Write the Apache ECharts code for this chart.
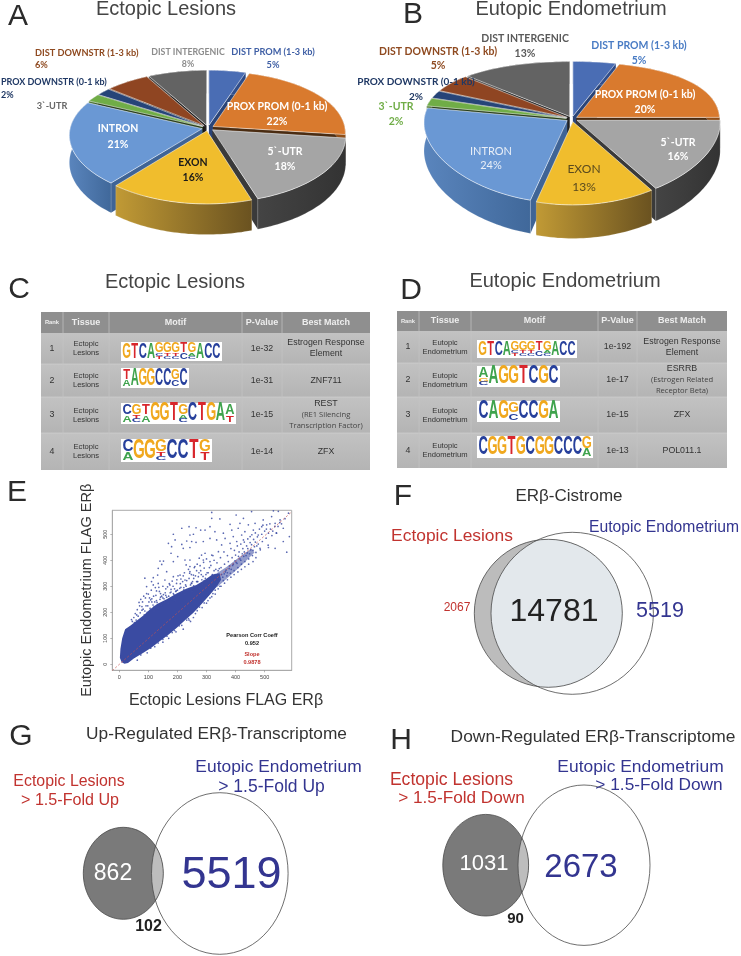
<!DOCTYPE html>
<html><head><meta charset="utf-8">
<style>html,body{margin:0;padding:0;background:#fff}#c{width:741px;height:956px}</style>
<script src="https://cdn.jsdelivr.net/npm/echarts@6/dist/echarts.min.js"></script>
</head><body><div id="c"></div>
<script>
// ---------- data ----------
const genomicFeatures = ['DIST PROM (1-3 kb)','PROX PROM (0-1 kb)','5`-UTR','EXON','INTRON','3`-UTR','PROX DOWNSTR (0-1 kb)','DIST DOWNSTR (1-3 kb)','DIST INTERGENIC'];
const ectopicShare = [5,22,18,16,21,2,2,6,8];
const eutopicShare = [5,20,16,13,24,2,2,5,13];

const motifHeader = ['Rank','Tissue','Motif','P-Value','Best Match'];
const ectopicPValues = ['1e-32','1e-31','1e-15','1e-14'];
const ectopicMatches = [['Estrogen Response','Element'],['ZNF711'],['REST','(RE1 Silencing','Transcription Factor)'],['ZFX']];
const ectopicMotifs = [
 ['G','T','C','A','GCT','GTC','GTC','TC','GAC','A','C','C'],
 ['TA','A','G','G','C','C','GC','C'],
 ['CA','GTC','TA','G','G','T','GAC','C','T','G','A','AT'],
 ['CA','G','G','GTC','C','C','T','GT']];
const eutopicPValues = ['1e-192','1e-17','1e-15','1e-13'];
const eutopicMatches = [['Estrogen Response','Element'],['ESRRB','(Estrogen Related','Receptor Beta)'],['ZFX'],['POL011.1']];
const eutopicMotifs = [
 ['G','T','C','A','GCT','GTC','GTC','TC','GAC','A','C','C'],
 ['AGC','A','G','G','T','C','G','C'],
 ['C','A','G','GC','C','C','G','A'],
 ['C','G','G','T','G','C','G','G','C','C','C','GA']];

const scatterTicks = [0,100,200,300,400,500];
const identityLine = [[-24,-24],[590,583]];
const denseRegion = [[18,2],[30,5],[50,22],[83,44],[110,64],[140,90],[170,115],[197,140],[225,168],[255,198],[280,228],[310,265],[335,298],[350,325],[345,350],[320,345],[295,325],[265,305],[230,290],[197,272],[163,250],[130,232],[106,212],[85,190],[65,172],[40,150],[20,135],[10,100],[4,60],[2,25],[8,8]];
const bandRegion = [[335,295],[375,335],[420,380],[465,430],[455,445],[410,410],[370,375],[335,350]];
const scatterPoints = [
[215,523],[240,529],[264,525],[280,516],[186,500],[243,497],[255,500],[192,478],[232,474],[249,472],[264,469],[169,465],[180,452],[215,461],[220,446],[243,449],[178,427],[201,414],[140,397],[152,397],[226,401],[243,401],[275,408],[283,420],[134,369],[146,384],[186,395],[230,382],[243,376],[260,376],[278,379],[117,333],[88,331],[132,343],[163,356],[186,337],[209,343],[243,356],[255,343],[272,337],[111,318],[94,299],[117,305],[134,311],[157,324],[174,305],[197,311],[226,324],[249,311],[266,318],
[318,584],[318,561],[346,559],[402,574],[427,561],[455,587],[530,590],[547,588],[524,568],[553,555],[582,581],[495,555],[467,542],[444,536],[415,542],[381,538],[312,529],[295,516],[329,510],[358,504],[387,516],[409,523],[432,510],[461,516],[490,529],[507,536],[536,542],[564,523],[585,491],[576,431],[564,472],[541,504],[513,504],[478,497],[450,491],[421,497],[392,491],[364,484],[335,478],[312,484],[289,472],[352,459],[381,465],[404,472],[427,478],[513,449],[536,446],[484,446],[341,433],[318,420],[295,427],[289,401],[312,395],
[330,345],[335,318],[340,360],[345,330],[350,372],[352,345],[358,322],[362,385],[365,355],[370,340],[375,395],[378,368],[382,350],[388,410],[390,380],[395,360],[400,420],[402,392],[408,372],[412,432],[415,405],[420,385],[425,445],[428,415],[432,395],[438,455],[440,428],[445,405],[450,468],[452,440],[458,418],[462,480],[465,452],[470,430],[475,490],[478,462],[485,440],[490,500],[492,472],[500,512],[505,485],[512,458],[520,520],[525,495],[535,530],[540,505],[552,545],
[356,335],[361,348],[367,362],[372,352],[379,378],[385,365],[392,385],[398,398],[405,388],[410,415],[418,400],[423,425],[430,432],[436,418],[442,445],[448,425],[455,460],[460,438],[468,470],[473,455],
[45,165],[50,180],[55,195],[58,170],[62,210],[65,185],[70,225],[72,198],[76,175],[80,240],[82,212],[86,190],[90,255],[92,225],[96,200],[100,270],[102,240],[106,215],[110,285],[112,252],[116,228],[120,205],[124,295],[126,265],[130,238],[134,215],[138,280],[140,250],[145,226],[150,300],[152,268],[156,240],[160,290],[163,258],[168,235],[172,310],[175,275],[180,250],[185,300],[188,268],[192,245],[198,325],[200,285],[205,260],[210,310],[214,275],[220,340],[222,295],[226,268],[232,322],[236,285],[242,350],[245,305],[250,280],[256,330],[260,296],[266,360],[270,318],[276,290],[282,345],[286,308],[292,370],[296,330],[302,352],[308,325],[315,380],[320,345],[326,400],[332,365],
[74,250],[84,262],[104,255],[122,240],[128,282],[146,262],[158,275],[170,262],[178,288],[194,280],[208,292],[218,318],[228,305],[240,330],[252,318],[262,340],[274,352],[284,325],[298,345],
[150,85],[170,100],[195,125],[215,150],[240,170],[262,195],[285,218],[305,245],[330,270],[350,300],[372,325],[395,345],[420,365],[445,385],[470,410],[220,135],[245,165],[300,235],[330,285],[255,180],[460,395],[318,260],[340,290],[362,312],[384,335],[408,355],[432,375],
[68,238],[78,222],[94,272],[108,248],[118,262],[136,296],[142,272],[154,252],[166,298],[182,320],[190,290],[202,340],[212,328],[224,352],[238,365],[248,345],[258,372],[268,385],[280,360],[290,392],[300,405],[310,372],[322,418],[336,390],[348,410],[360,432],[372,418],[384,445],[396,438],[406,455],[418,462],[430,470],[442,482],[456,498],[468,505],[482,520],[494,535],[506,520],[518,540],[528,512],[546,530],[558,540],[570,560],
[42,172],[60,190],[78,208],[98,225],[112,240],[128,245],[142,258],[160,265],[178,278],[196,282],[212,296],[230,300],[248,312],[268,318],[288,338],[306,352],[326,360],[344,368],[52,160],[88,205],[120,222],[150,255],[186,272],[222,286],[256,302],[292,322],
[62,16],[96,44],[122,68],[150,96],[182,122],[206,148],[238,176],[268,206],[292,236],[322,272],[346,300],[74,36],[108,62],[134,82],[164,108],[190,130],[232,170],[276,220],[312,255]];

const cistromeCounts = {ectopicOnly:'2067', shared:'14781', eutopicOnly:'5519'};
const upCounts = {ectopicOnly:'862', shared:'102', eutopicOnly:'5519'};
const downCounts = {ectopicOnly:'1031', shared:'90', eutopicOnly:'2673'};

// ---------- layout & style ----------
const SANS = '"Liberation Sans",Arial,sans-serif';
const LABEL = 'Lato,"Open Sans",sans-serif';
const RED = '#c1332f', BLUE = '#333590', DARK = '#333';
const sliceTop = ['#4a6db4','#d97a2e','#a5a5a5','#f0bd2d','#6a98d4','#70ad47','#264478','#8f4522','#636363'];
const sliceWall = [['#3a5a9a','#2d4a86'],['#b5651f','#8f4d17'],['#444','#333'],['#c19a35','#6a5220'],['#5a85bd','#40689a'],['#507a32','#3c5e26'],['#1b3360','#14264a'],['#6e3414','#55280f'],['#4a4a4a','#383838']];
const sliceCut = ['#2a4478','#4a2c12','#3a3a3a','#806424','#3f6496','#263d18','#101d38','#1a1008','#222'];
const pieLayout = [
 {cx:208,cy:128,rx:132,ry:64,k:0.13,kx:0.1,d:27,e:0.045,values:ectopicShare},
 {cx:572,cy:119,rx:143,ry:69,k:0.19,kx:0.03,d:28,e:0.04,values:eutopicShare}];

const gfx = [];
function T(text,x,y,o={}){
  gfx.push({type:'text',x,y,z:100,silent:true,rotation:o.rot||0,scaleX:o.sx||1,scaleY:o.sy||1,style:{text,x:0,y:0,
    fill:o.c||DARK,font:`${o.w||'normal'} ${o.s||12}px ${o.f||SANS}`,
    align:o.a||'center',textAlign:o.a||'center',verticalAlign:'middle',textVerticalAlign:'middle'}});
}
function R(x,y,w,h,fill,extra){ gfx.push(Object.assign({type:'rect',z:100,silent:true,shape:{x,y,width:w,height:h},style:{fill}},extra||{})); }
function L(x1,y1,x2,y2,c){ gfx.push({type:'line',z:100,silent:true,shape:{x1,y1,x2,y2},style:{stroke:c,lineWidth:0.7}}); }

// panel letters
[['A',18,17],['B',413,15],['C',19,290],['D',411,291],['E',17,493],['F',403,497],['G',21,737],['H',401,741]].forEach(p=>T(p[0],p[1],p[2],{s:30,c:'#2b2b2b'}));
// titles
[['Ectopic Lesions',166,9,20],['Eutopic Endometrium',571,9,20],['Ectopic Lesions',175,282,20],['Eutopic Endometrium',565,281,20]].forEach(p=>T(p[0],p[1],p[2],{s:p[3],c:'#444'}));

// pie labels
const pct = v=>v+'%';
function pieLabels(vals, items){
  items.forEach(it=>{
    const i=it[0], o=it[1];
    T(genomicFeatures[i],o.x,o.y,{s:o.s||9.2,c:o.c,w:o.w||'bold',f:LABEL,a:o.a||'center'});
    if(o.py) T(pct(vals[i]),o.px!==undefined?o.px:o.x,o.py,{s:o.ps||o.s||9.2,c:o.c,w:o.w||'bold',f:LABEL,a:o.a||'center'});
  });
}
pieLabels(ectopicShare,[
 [0,{x:273,y:52,py:65,c:'#3f5fa5'}],
 [1,{x:277,y:107,py:122,c:'#fff',s:10.5}],
 [2,{x:285,y:152,py:167,c:'#fff',s:10.5}],
 [3,{x:193,y:163,py:178,c:'#1a1a1a',s:10.5}],
 [4,{x:118,y:129,py:145,c:'#fff',s:10.5}],
 [5,{x:52,y:106,c:'#666'}],
 [6,{x:1,y:82,py:95,c:'#1f3864',a:'left',s:9}],
 [7,{x:35,y:53,py:65,c:'#8f4a20',a:'left'}],
 [8,{x:188,y:52,py:64,c:'#8c8c8c',s:8.8}]]);
pieLabels(eutopicShare,[
 [0,{x:639,y:46,py:61,c:'#4a7cc4',s:10.5}],
 [1,{x:645,y:95,py:110,c:'#fff',s:10.5}],
 [2,{x:678,y:143,py:157,c:'#fff',s:10.5}],
 [3,{x:584,y:169,py:187,c:'#5a4a1e',s:12,w:'normal'}],
 [4,{x:491,y:151,py:165,c:'#e8eef7',s:11,w:'normal'}],
 [5,{x:396,y:107,py:122,c:'#70ad47',s:10.5}],
 [6,{x:416,y:82,py:97,c:'#1f3864',s:10}],
 [7,{x:438,y:52,py:66,c:'#8f4a20',s:10.5}],
 [8,{x:525,y:39,py:54,c:'#5a5a5a',s:10.5}]]);

// tables
const letterColor = {A:'#3fa34d',C:'#27409c',G:'#f0a81e',T:'#d8262c'};
function table(tb, tissue, pvals, matches, motifs){
  const [x0,x1]=tb.x,[y0,y1]=tb.y;
  R(x0,y0,x1-x0,y1-y0,'#b8b8b8');
  R(x0,y0,x1-x0,tb.head-y0,'#8f8f8f');
  const rows=[tb.head].concat(tb.rows,[y1]);
  for(let r=0;r<4;r++){
    R(x0,rows[r],x1-x0,rows[r+1]-rows[r],new echarts.graphic.LinearGradient(0,0,0,1,[{offset:0,color:'#c2c2c2'},{offset:1,color:'#b4b4b4'}]));
  }
  rows.slice(1,-1).forEach(y=>L(x0,y,x1,y,'#d0d0d0'));
  tb.cols.forEach(x=>L(x,y0,x,y1,'#c4c4c4'));
  const cx=[x0].concat(tb.cols,[x1]);
  const mid=i=>(cx[i]+cx[i+1])/2;
  motifHeader.forEach((h,i)=>T(h,mid(i),(y0+tb.head)/2,{s:i==0?5.8:9,w:'bold',c:'#eee'}));
  for(let r=0;r<4;r++){
    const cy=(rows[r]+rows[r+1])/2;
    T(String(r+1),mid(0),cy,{s:8.8,c:'#333'});
    const t=tissue;
    T(t[0],mid(1),cy-4.5,{s:7.6,c:'#333'}); T(t[1],mid(1),cy+4.5,{s:7.6,c:'#333'});
    T(pvals[r],mid(3),cy,{s:8.8,c:'#333'});
    const m=matches[r];
    if(m.length===1) T(m[0],mid(4),cy,{s:8.8,c:'#333'});
    else if(m.length===2){ T(m[0],mid(4),cy-5.5,{s:8.8,c:'#333'}); T(m[1],mid(4),cy+5.5,{s:8.8,c:'#333'}); }
    else { T(m[0],mid(4),cy-11,{s:8.8,c:'#333'}); T(m[1],mid(4),cy,{s:7.6,c:'#444',f:'"Open Sans",sans-serif'}); T(m[2],mid(4),cy+11,{s:7.6,c:'#444',f:'"Open Sans",sans-serif'}); }
    // motif logo
    const b=tb.logo[r];
    R(b[0],b[1],b[2],b[3],'#fff');
    const cols=motifs[r], cw=(b[2]-3)/cols.length, top=b[1]+1.5, H=b[3]-3;
    cols.forEach((stack,ci)=>{
      const letters=stack.split('');
      const n=letters.length;
      let y=top;
      letters.forEach((ch,li)=>{
        const h = n===1 ? H : (li===0 ? H*0.62 : H*0.38/(n-1));
        const fs=14, capH=fs*0.72, capW=fs*0.74;
        T(ch,b[0]+1.5+cw*(ci+0.5),y+h/2,{s:fs,w:'bold',c:letterColor[ch],sx:cw/capW*1.02,sy:h/capH});
        y+=h;
      });
    });
  }
}
table({x:[41,370],y:[312,470],head:333,rows:[364,397,433],cols:[63,109,242,282],
  logo:[[121,342,101,19],[121,368,68,20],[121,403,115,21],[121,439,91,23]]},['Ectopic','Lesions'],ectopicPValues,ectopicMatches,ectopicMotifs);
table({x:[397,727],y:[311,468],head:331,rows:[363,397,433],cols:[419,471,598,637],
  logo:[[477,340,100,18],[477,366,83,21],[477,401,83,21],[477,436,116,22]]},['Eutopic','Endometrium'],eutopicPValues,eutopicMatches,eutopicMotifs);

// scatter annotations
T('Pearson Corr Coeff',252,635,{s:5.6,w:'bold',c:'#222'});
T('0.952',252,643,{s:5.6,w:'bold',c:'#222'});
T('Slope',252,654,{s:5.6,w:'bold',c:RED});
T('0.9878',252,662,{s:5.6,w:'bold',c:RED});

// venn labels
T('ERβ-Cistrome',569,496,{s:17,c:'#333'});
T('Ectopic Lesions',452,536,{s:17.4,c:RED});
T('Eutopic Endometrium',664,528,{s:15.7,c:BLUE});
T(cistromeCounts.ectopicOnly,457,608,{s:12,c:RED});
T(cistromeCounts.shared,554,612,{s:32,c:'#222'});
T(cistromeCounts.eutopicOnly,660,611,{s:21.5,c:BLUE});

T('Up-Regulated ERβ-Transcriptome',216.5,734,{s:17.3,c:'#333'});
T('Ectopic Lesions',69,782,{s:15.9,c:RED});
T('> 1.5-Fold Up',70,801,{s:16.1,c:RED});
T('Eutopic Endometrium',278.5,767,{s:17.4,c:BLUE});
T('> 1.5-Fold Up',271.5,787,{s:17.5,c:BLUE});
T(upCounts.ectopicOnly,113,874,{s:23,c:'#fff'});
T(upCounts.eutopicOnly,231.5,876,{s:45,c:BLUE});
T(upCounts.shared,148.5,927,{s:16,w:'bold',c:'#222'});

T('Down-Regulated ERβ-Transcriptome',593,737,{s:17.4,c:'#333'});
T('Ectopic Lesions',451.5,780,{s:17.6,c:RED});
T('> 1.5-Fold Down',461.5,798,{s:17.2,c:RED});
T('Eutopic Endometrium',640.5,767,{s:17.4,c:BLUE});
T('> 1.5-Fold Down',659,785,{s:17.3,c:BLUE});
T(downCounts.ectopicOnly,484,864,{s:22,c:'#fff'});
T(downCounts.eutopicOnly,581,868,{s:33,c:BLUE});
T(downCounts.shared,515.5,919,{s:15,w:'bold',c:'#222'});

// ---------- pie projection ----------
function piePoint(p,u,v,ox,oy,down){
  const U=u+ox,V=v+oy;
  const persp=1+p.k*V;
  return [p.cx+p.rx*U*(1+p.kx*V), p.cy+p.ry*V*persp+(down?p.d*(1+p.k*V):0)];
}
function pieSeries(p){
  const total=p.values.reduce((a,b)=>a+b,0);
  let acc=0;
  const slices=p.values.map((v,i)=>{const a0=acc/total*2*Math.PI; acc+=v; const a1=acc/total*2*Math.PI; return {i,v,a0,a1,mid:(a0+a1)/2};});
  const order=slices.slice().sort((a,b)=>(-Math.cos(a.mid))-(-Math.cos(b.mid)));
  return {type:'custom',coordinateSystem:'none',silent:true,animation:false,z:2,
    data:order.map(s=>[s.v,s.i]),
    renderItem(params,api){
      const s=order[params.dataIndex], ox=p.e*Math.sin(s.mid), oy=-p.e*Math.cos(s.mid);
      const n=Math.max(6,Math.ceil((s.a1-s.a0)*40));
      const arc=down=>{const a=[];for(let j=0;j<=n;j++){const t=s.a0+(s.a1-s.a0)*j/n;a.push(piePoint(p,Math.sin(t),-Math.cos(t),ox,oy,down));}return a;};
      const top=arc(false), bot=arc(true);
      const tip=piePoint(p,0,0,ox,oy,false), tipB=piePoint(p,0,0,ox,oy,true);
      const cut=sliceCut[s.i];
      const wall=new echarts.graphic.LinearGradient(0,0,1,0,[{offset:0,color:sliceWall[s.i][0]},{offset:1,color:sliceWall[s.i][1]}]);
      return {type:'group',children:[
        {type:'polygon',shape:{points:[tip,top[0],bot[0],tipB]},style:{fill:cut}},
        {type:'polygon',shape:{points:[tip,top[n],bot[n],tipB]},style:{fill:cut}},
        {type:'polygon',shape:{points:top.concat(bot.slice().reverse())},style:{fill:wall,stroke:'rgba(255,255,255,0.35)',lineWidth:0.5}},
        {type:'polygon',shape:{points:[tip].concat(top)},style:{fill:sliceTop[s.i],stroke:'rgba(255,255,255,0.75)',lineWidth:0.7}}
      ]};
    }};
}

// ---------- venn ----------
function ellipsePts(e,a0,a1,n){const o=[];for(let j=0;j<=n;j++){const t=a0+(a1-a0)*j/n;o.push([e.cx+e.rx*Math.cos(t),e.cy+e.ry*Math.sin(t)]);}return o;}
const inside=(e,p)=>((p[0]-e.cx)/e.rx)**2+((p[1]-e.cy)/e.ry)**2<=1;
function lens(a,b){
  return ellipsePts(a,-Math.PI,Math.PI,360).filter(p=>inside(b,p)).concat(ellipsePts(b,0,2*Math.PI,360).filter(p=>inside(a,p)));
}
function vennSeries(v){
  return {type:'custom',coordinateSystem:'none',silent:true,animation:false,z:2,data:[[1]],
    renderItem(){
      const ell=(e,style)=>({type:'ellipse',shape:{cx:e.cx,cy:e.cy,rx:e.rx,ry:e.ry},style});
      return {type:'group',children:[
        ell(v.left,{fill:v.leftFill}),
        {type:'polygon',shape:{points:lens(v.left,v.right)},style:{fill:v.lensFill}},
        ell(v.left,{fill:'none',stroke:'#4a4a4a',lineWidth:0.8}),
        ell(v.right,{fill:'none',stroke:'#4a4a4a',lineWidth:0.8})
      ]};
    }};
}
const venns=[
 {left:{cx:548.3,cy:613.3,rx:74,ry:74},right:{cx:572.2,cy:613.3,rx:81.2,ry:81},leftFill:'#bcbcbc',lensFill:'#e3e8ec'},
 {left:{cx:123.3,cy:873.3,rx:40,ry:46},right:{cx:219.8,cy:873.5,rx:68.3,ry:80.8},leftFill:'#7a7a7a',lensFill:'#bdbdbd'},
 {left:{cx:485.7,cy:865.2,rx:42.9,ry:50.8},right:{cx:584,cy:865.2,rx:66,ry:80.2},leftFill:'#7a7a7a',lensFill:'#bdbdbd'}];

// ---------- chart ----------
const axisCommon={type:'value',splitLine:{show:false},
  axisLine:{show:true,onZero:false,lineStyle:{color:'#aaa',width:1}},
  axisTick:{show:true,length:2,lineStyle:{color:'#888',width:0.6},customValues:scatterTicks},
  axisLabel:{fontSize:5.5,color:'#444',margin:4,fontFamily:SANS,customValues:scatterTicks,showMinLabel:true,showMaxLabel:true},
  nameTextStyle:{fontFamily:SANS,color:'#333',fontSize:16}};
const option={
  animation:false,backgroundColor:'#fff',
  grid:{left:112.3,top:510.3,width:179.4,height:160,show:true,borderColor:'#aaa',borderWidth:1,containLabel:false},
  xAxis:Object.assign({},axisCommon,{min:-24,max:593,name:'Ectopic Lesions FLAG ERβ',nameLocation:'middle',nameGap:22,
    nameTextStyle:Object.assign({},axisCommon.nameTextStyle,{padding:[0,0,0,48]})}),
  yAxis:Object.assign({},axisCommon,{min:-23,max:592,name:'Eutopic Endometrium FLAG ERβ',nameLocation:'middle',nameGap:18,
    nameTextStyle:Object.assign({},axisCommon.nameTextStyle,{fontSize:14.5}),
    axisLabel:Object.assign({},axisCommon.axisLabel,{rotate:90})}),
  graphic:{elements:gfx},
  series:[
    pieSeries(pieLayout[0]),pieSeries(pieLayout[1]),
    {type:'custom',coordinateSystem:'cartesian2d',silent:true,animation:false,z:3,clip:false,data:[[0,0]],
      encode:{x:0,y:1},
      renderItem(params,api){
        return {type:'group',children:[
          {type:'polygon',shape:{points:bandRegion.map(p=>api.coord(p))},style:{fill:'rgba(58,75,162,0.55)'}},
          {type:'polygon',shape:{points:denseRegion.map(p=>api.coord(p))},style:{fill:'#3a4ba2'}}
        ]};
      }},
    {type:'scatter',data:scatterPoints,symbolSize:1.7,silent:true,z:4,itemStyle:{color:'#3d4ea5',opacity:0.85},clip:true,large:false},
    {type:'line',data:identityLine,showSymbol:false,silent:true,z:5,lineStyle:{color:'#c8504d',width:0.7,type:[2,2]}},
    vennSeries(venns[0]),vennSeries(venns[1]),vennSeries(venns[2])
  ]
};
echarts.init(document.getElementById('c'),null,{renderer:'canvas',width:741,height:956}).setOption(option);
</script></body></html>
